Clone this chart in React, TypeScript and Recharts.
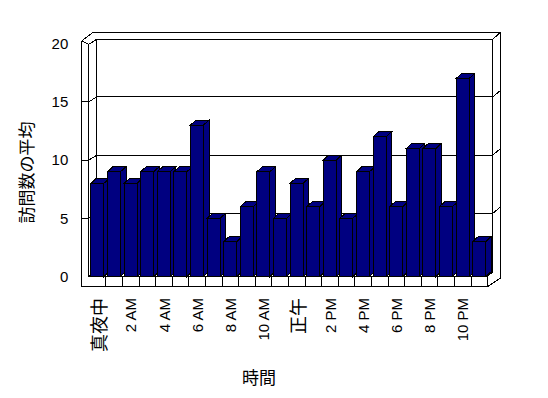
import React from 'react';
import { BarChart, Bar, XAxis, YAxis, ReferenceArea } from 'recharts';

// ---- data ----
const hours = [
  '真夜中', '1 AM', '2 AM', '3 AM', '4 AM', '5 AM', '6 AM', '7 AM', '8 AM', '9 AM', '10 AM', '11 AM',
  '正午', '1 PM', '2 PM', '3 PM', '4 PM', '5 PM', '6 PM', '7 PM', '8 PM', '9 PM', '10 PM', '11 PM',
];
const visits = [8, 9, 8, 9, 9, 9, 13, 5, 3, 6, 9, 5, 8, 6, 10, 5, 9, 12, 6, 11, 11, 6, 17, 3];
const yTicks = [0, 5, 10, 15, 20];
const gridValues = [5, 10, 15];
const xTitle = '時間';
const yTitle = '訪問数の平均';

const data = hours.map((h, i) => ({ hour: h, visits: visits[i] }));

// ---- layout ----
const W = 548;
const H = 398;
const PL = 89.3;
const PR = 487.7;
const PT = 43.5;
const PB = 276.5;
const YAXIS_W = 60;
const XAXIS_H = 30;
const FONT = '"Liberation Sans", Arial, "Noto Sans CJK JP", sans-serif';
const CJK_FONT = '"Noto Sans CJK JP", "Liberation Sans", sans-serif';
const NAVY = '#000080';

const isCJK = (s: string) => /[^\x00-\x7F]/.test(s);

const XTick = (props: any) => {
  const { x, payload } = props;
  const v = String(payload.value);
  const cjk = isCJK(v);
  return (
    <text
      transform={`translate(${x},${PB + 21.5}) rotate(-90)`}
      textAnchor="end"
      dominantBaseline="central"
      fontSize={cjk ? 18 : 15}
      fontFamily={cjk ? CJK_FONT : FONT}
      fill="#000"
    >
      {v}
    </text>
  );
};

const Bar3D = (props: any) => {
  const { x, y, width, height } = props;
  if (width == null || height == null) return null;
  const dx = 5.5;
  const dy = -5;
  const r = x + width;
  const b = y + height;
  return (
    <g stroke="#000" strokeWidth={1} fill={NAVY} shapeRendering="crispEdges">
      <polygon points={`${x},${y} ${x + dx},${y + dy} ${r + dx},${y + dy} ${r},${y}`} />
      <polygon points={`${r},${y} ${r + dx},${y + dy} ${r + dx},${b + dy} ${r},${b}`} />
      <rect x={x} y={y} width={width} height={height} />
    </g>
  );
};

const Box3D = (props: any) => {
  const { x, y, width, height } = props;
  const L = x;
  const T = y;
  const R = x + width;
  const B = y + height;
  const oL = L - 7.6;
  const n = hours.length;
  const band = width / n;
  const maxV = yTicks[yTicks.length - 1];
  const ys = (v: number) => B - (v / maxV) * height;
  const lines: React.ReactNode[] = [];
  gridValues.forEach((v) => {
    const yy = ys(v);
    lines.push(<line key={`f${v}`} x1={oL} y1={yy} x2={L - 0.5} y2={yy} />);
    lines.push(<line key={`d${v}`} x1={L - 0.5} y1={yy} x2={L + 7.4} y2={yy - 4.8} />);
    lines.push(<line key={`b${v}`} x1={L + 7.4} y1={yy - 4.8} x2={R + 5} y2={yy - 4.8} />);
    lines.push(<line key={`r${v}`} x1={R + 5} y1={yy - 4.8} x2={R + 12.3} y2={yy - 11} />);
  });
  for (let i = 1; i < n; i++) {
    const xx = L + i * band;
    lines.push(<line key={`t${i}`} x1={xx} y1={B} x2={xx} y2={B + 10} />);
  }
  return (
    <g>
      <g stroke="#000" strokeWidth={1} fill="#fff" shapeRendering="crispEdges">
        <polygon
          points={`${oL},${T - 2.5} ${L + 3.4},${T - 10.8} ${R + 12.3},${T - 10.8} ${R + 12.3},${B + 1.8} ${R},${B + 10} ${oL},${B + 10}`}
        />
        <rect x={L + 7.4} y={T - 4.2} width={R + 5 - (L + 7.4)} height={B - 4.8 - (T - 4.2)} />
        <polyline fill="none" points={`${oL},${T - 2.5} ${L - 0.5},${T + 0.8} ${L + 7.4},${T - 4.2}`} />
        <line x1={R + 5} y1={T - 4.2} x2={R + 12.3} y2={T - 10.8} />
        <line x1={L - 0.5} y1={T + 0.8} x2={L - 0.5} y2={B} />
        <line x1={L - 0.5} y1={B} x2={R} y2={B} />
        <line x1={L - 0.5} y1={B} x2={L + 7.4} y2={B - 4.8} />
        <line x1={R} y1={B} x2={R + 5} y2={B - 4.8} />
        <line x1={R} y1={B} x2={R} y2={B + 10} />
        {lines}
      </g>
      <text
        transform={`translate(25,172.5) rotate(-90)`}
        textAnchor="middle"
        dominantBaseline="central"
        fontSize={17}
        fontFamily={CJK_FONT}
        fill="#000"
      >
        {yTitle}
      </text>
      <text
        x={259}
        y={376}
        textAnchor="middle"
        dominantBaseline="central"
        fontSize={17}
        fontFamily={CJK_FONT}
        fill="#000"
      >
        {xTitle}
      </text>
    </g>
  );
};

export default function App() {
  return (
    <div style={{ position: 'absolute', left: 0, top: 0, width: W, height: H, background: '#fff' }}>
      <BarChart
        width={W}
        height={H}
        data={data}
        margin={{ top: PT, right: W - PR, bottom: H - PB - XAXIS_H, left: PL - YAXIS_W }}
        barCategoryGap="10%"
      >
        <XAxis
          dataKey="hour"
          interval={1}
          axisLine={false}
          tickLine={false}
          height={XAXIS_H}
          tick={<XTick />}
        />
        <YAxis
          domain={[0, 20]}
          ticks={yTicks}
          width={YAXIS_W}
          axisLine={false}
          tickLine={false}
          tickSize={0}
          tickMargin={21}
          tick={{ fill: '#000', fontSize: 15, fontFamily: FONT }}
        />
        <ReferenceArea y1={0} y2={20} ifOverflow="visible" shape={<Box3D />} />
        <Bar dataKey="visits" fill={NAVY} isAnimationActive={false} shape={<Bar3D />} />
      </BarChart>
    </div>
  );
}
